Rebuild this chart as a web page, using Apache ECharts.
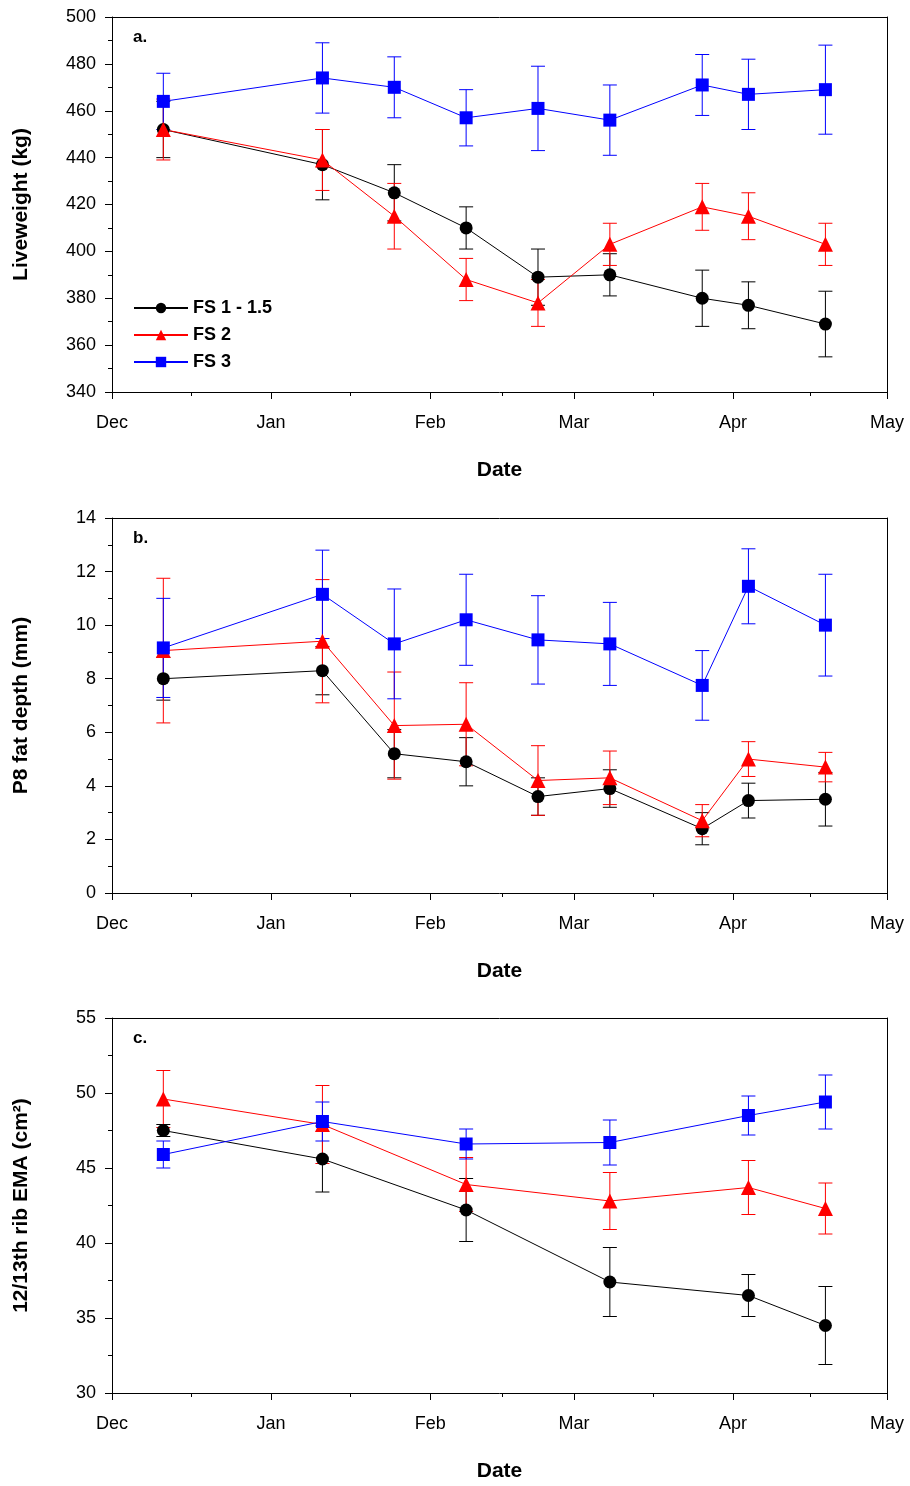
<!DOCTYPE html>
<html>
<head>
<meta charset="utf-8">
<script src="https://cdn.jsdelivr.net/npm/echarts@6/dist/echarts.min.js"></script>
<style>
  html, body { margin: 0; padding: 0; background: #fff; }
  #chart { width: 910px; height: 1486px; }
</style>
</head>
<body>
<div id="chart"></div>
<script>
// sampling dates
var datesAB = ['2005-12-11', '2006-01-11', '2006-01-25', '2006-02-08', '2006-02-22', '2006-03-08', '2006-03-26', '2006-04-04', '2006-04-19'];
var datesC = ['2005-12-11', '2006-01-11', '2006-02-08', '2006-03-08', '2006-04-04', '2006-04-19'];
var groups = ['FS 1 - 1.5', 'FS 2', 'FS 3'];
var colors = ['#000000', '#ff0000', '#0000ff'];
var symbols = ['circle', 'triangle', 'rect'];

// a. liveweight (kg): mean and error
var lwMean = [
  [452, 437, 425, 410, 389, 390, 380, 377, 369],
  [452, 439, 415, 388, 378, 403, 419, 415, 403],
  [464, 474, 470, 457, 461, 456, 471, 467, 469]
];
var lwErr = [
  [12, 15, 12, 9, 12, 9, 12, 10, 14],
  [13, 13, 14, 9, 10, 9, 10, 10, 9],
  [12, 15, 13, 12, 18, 15, 13, 15, 19]
];
// b. P8 fat depth (mm)
var p8Mean = [
  [8.0, 8.3, 5.2, 4.9, 3.6, 3.9, 2.4, 3.45, 3.5],
  [9.05, 9.4, 6.25, 6.3, 4.2, 4.3, 2.7, 5.0, 4.7],
  [9.15, 11.15, 9.3, 10.2, 9.45, 9.3, 7.75, 11.45, 10.0]
];
var p8Err = [
  [0.8, 0.9, 0.9, 0.9, 0.7, 0.7, 0.6, 0.65, 1.0],
  [2.7, 2.3, 2.0, 1.55, 1.3, 1.0, 0.6, 0.65, 0.55],
  [1.85, 1.65, 2.05, 1.7, 1.65, 1.55, 1.3, 1.4, 1.9]
];
// c. EMA (cm2)
var emaMean = [
  [47.5, 45.6, 42.2, 37.4, 36.5, 34.5],
  [49.6, 47.9, 43.9, 42.8, 43.7, 42.3],
  [45.9, 48.1, 46.6, 46.7, 48.5, 49.4]
];
var emaErr = [
  [0.4, 2.2, 2.1, 2.3, 1.4, 2.6],
  [1.9, 2.6, 1.8, 1.9, 1.8, 1.7],
  [0.9, 1.3, 1.0, 1.5, 1.3, 1.8]
];
var monthNames = ['Jan', 'Feb', 'Mar', 'Apr', 'May', 'Jun', 'Jul', 'Aug', 'Sep', 'Oct', 'Nov', 'Dec'];

var chart = echarts.init(document.getElementById('chart'));

var panels = [
  { top: 17, dates: datesAB, mean: lwMean, err: lwErr, min: 340, max: 500, interval: 20, name: 'Liveweight (kg)', label: 'a.' },
  { top: 518, dates: datesAB, mean: p8Mean, err: p8Err, min: 0, max: 14, interval: 2, name: 'P8 fat depth (mm)', label: 'b.' },
  { top: 1018, dates: datesC, mean: emaMean, err: emaErr, min: 30, max: 55, interval: 5, name: '12/13th rib EMA (cm²)', label: 'c.' }
];

var grid = [], xAxis = [], yAxis = [], series = [], graphic = [];
var axisLine = { show: true, onZero: false, lineStyle: { color: '#000', width: 1 } };
var font = 'Liberation Sans, Arial, sans-serif';

panels.forEach(function (p, i) {
  grid.push({ left: 112, right: 23, top: p.top, height: 375 });
  xAxis.push({
    type: 'time', gridIndex: i, min: '2005-12-01', max: '2006-05-01',
    splitNumber: 5,
    name: 'Date', nameLocation: 'middle', nameGap: 68,
    nameTextStyle: { fontSize: 21, fontWeight: 'bold', color: '#000', fontFamily: font },
    axisLine: axisLine,
    axisTick: { show: true, inside: false, length: 7, lineStyle: { color: '#000' } },
    minorTick: { show: true, splitNumber: 2, length: 4, lineStyle: { color: '#000' } },
    splitLine: { show: false },
    axisLabel: {
      fontSize: 18, color: '#000', fontFamily: font, margin: 22, hideOverlap: false,
      formatter: function (v) { return monthNames[new Date(v).getMonth()]; }
    }
  });
  xAxis.push({
    type: 'time', gridIndex: i, position: 'top', min: '2005-12-01', max: '2006-05-01',
    axisLine: axisLine, axisTick: { show: false }, axisLabel: { show: false }, splitLine: { show: false }
  });
  yAxis.push({
    type: 'value', gridIndex: i, min: p.min, max: p.max, interval: p.interval,
    name: p.name, nameLocation: 'middle', nameGap: 80,
    nameTextStyle: { fontSize: 21, fontWeight: 'bold', color: '#000', fontFamily: font },
    axisLine: axisLine,
    axisTick: { show: true, inside: false, length: 7, lineStyle: { color: '#000' } },
    minorTick: { show: true, splitNumber: 2, length: 4, lineStyle: { color: '#000' } },
    splitLine: { show: false },
    axisLabel: { fontSize: 18, color: '#000', fontFamily: font, margin: 16 }
  });
  yAxis.push({
    type: 'value', gridIndex: i, position: 'right', min: p.min, max: p.max,
    axisLine: axisLine, axisTick: { show: false }, axisLabel: { show: false }, splitLine: { show: false }
  });
  graphic.push({
    type: 'text', left: 133, top: p.top + 12,
    style: { text: p.label, fontSize: 17, fontWeight: 'bold', fill: '#000', fontFamily: font }
  });

  groups.forEach(function (g, k) {
    var errData = p.dates.map(function (d, j) {
      return [d, p.mean[k][j] - p.err[k][j], p.mean[k][j] + p.err[k][j]];
    });
    series.push({
      type: 'custom', xAxisIndex: 2 * i, yAxisIndex: 2 * i, z: 1, silent: true,
      data: errData,
      encode: { x: 0, y: [1, 2] },
      renderItem: function (params, api) {
        var lo = api.coord([api.value(0), api.value(1)]);
        var hi = api.coord([api.value(0), api.value(2)]);
        var w = 7;
        var st = { stroke: colors[k], lineWidth: 1 };
        return {
          type: 'group', children: [
            { type: 'line', shape: { x1: lo[0], y1: lo[1], x2: hi[0], y2: hi[1] }, style: st },
            { type: 'line', shape: { x1: lo[0] - w, y1: lo[1], x2: lo[0] + w, y2: lo[1] }, style: st },
            { type: 'line', shape: { x1: hi[0] - w, y1: hi[1], x2: hi[0] + w, y2: hi[1] }, style: st }
          ]
        };
      }
    });
    series.push({
      name: g, type: 'line', xAxisIndex: 2 * i, yAxisIndex: 2 * i, z: 3,
      data: p.dates.map(function (d, j) { return [d, p.mean[k][j]]; }),
      symbol: symbols[k], symbolSize: k === 1 ? 15 : 13,
      lineStyle: { color: colors[k], width: 1 },
      itemStyle: { color: colors[k] },
      animation: false
    });
  });
});

var option = {
  animation: false,
  grid: grid, xAxis: xAxis, yAxis: yAxis, series: series, graphic: graphic,
  legend: {
    data: groups, orient: 'vertical', left: 128, top: 294, itemGap: 9,
    itemWidth: 54, itemHeight: 13,
    textStyle: { fontSize: 18, fontWeight: 'bold', color: '#000', fontFamily: font }
  }
};
chart.setOption(option);
</script>
</body>
</html>
